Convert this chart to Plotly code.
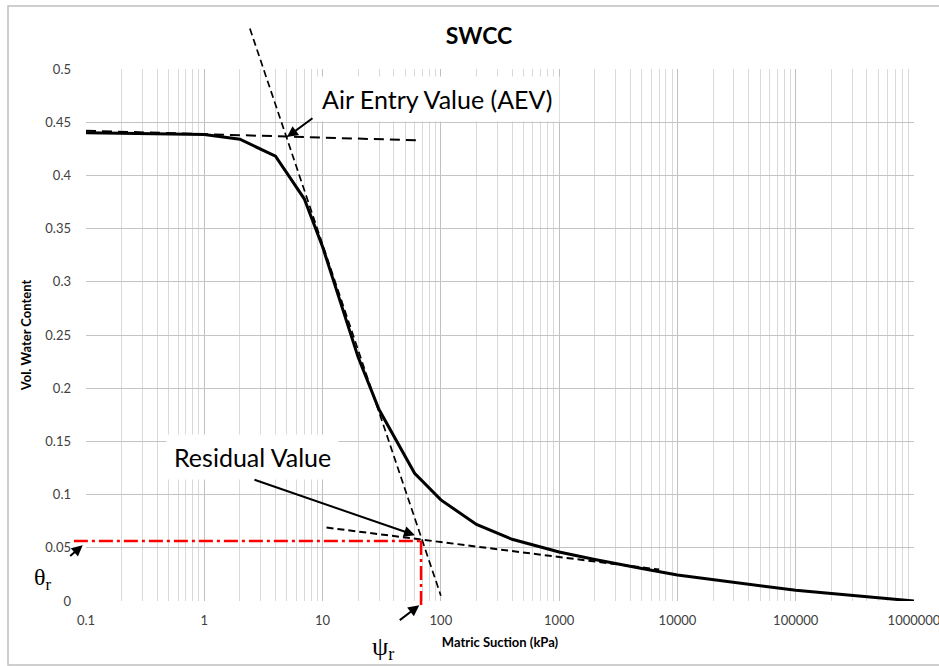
import math
import plotly.graph_objects as go

# ---------------- data ----------------
suction = [0.1, 1, 2, 4, 7, 10, 20, 30, 60, 100, 200, 400, 1000, 2000, 5000, 10000, 100000, 1000000]
vwc = [0.440, 0.4385, 0.434, 0.418, 0.378, 0.333, 0.229, 0.180, 0.120, 0.095, 0.072, 0.058,
       0.046, 0.039, 0.0305, 0.0245, 0.010, 0.000]

aev_tangent_x = [0.1, 62]
aev_tangent_y = [0.442, 0.433]
steep_tangent_x = [2.43, 100]
steep_tangent_y = [0.538, 0.005]
residual_tangent_x = [10.8, 7000]
residual_tangent_y = [0.069, 0.0295]

psi_r = 68
theta_r = 0.0565
red_start_x = 0.079
red_bottom_y = -0.0056

aev_point = (5, 0.436)
residual_arrow_point = (60.4, 0.0618)

x_tick_vals = [0.1, 1, 10, 100, 1000, 10000, 100000, 1000000]
x_tick_text = ["0.1", "1", "10", "100", "1000", "10000", "100000", "1000000"]
y_tick_vals = [0, 0.05, 0.1, 0.15, 0.2, 0.25, 0.3, 0.35, 0.4, 0.45, 0.5]
y_tick_text = ["0", "0.05", "0.1", "0.15", "0.2", "0.25", "0.3", "0.35", "0.4", "0.45", "0.5"]
minor_vals = [k * 10 ** e for e in range(-1, 6) for k in range(2, 10)]

# ---------------- scales ----------------
X_RANGE = [-1, 6]
Y_RANGE = [0, 0.5]


def xfrac(v):
    return (math.log10(v) - X_RANGE[0]) / (X_RANGE[1] - X_RANGE[0])


def yfrac(v):
    return (v - Y_RANGE[0]) / (Y_RANGE[1] - Y_RANGE[0])


FONT = "Lato"
W, H = 939, 666
ML, MR, MT, MB = 86, 25, 69, 65
PW, PH = W - ML - MR, H - MT - MB


def px_x(p):  # pixel -> paper (decoration placement only)
    return (p - ML) / PW


def px_y(p):
    return (H - MB - p) / PH


fig = go.Figure()

fig.add_trace(go.Scatter(x=aev_tangent_x, y=aev_tangent_y, mode="lines",
                         line=dict(color="black", width=2, dash="10px,6px"), showlegend=False))
fig.add_trace(go.Scatter(x=residual_tangent_x, y=residual_tangent_y, mode="lines",
                         line=dict(color="black", width=2, dash="7px,4px"), showlegend=False))
fig.add_trace(go.Scatter(x=suction, y=vwc, mode="lines",
                         line=dict(color="black", width=3), showlegend=False))

# steep tangent (extends above the plot) and red residual guides (extend outside the plot)
fig.add_shape(type="line", xref="x domain", yref="y domain",
              x0=xfrac(steep_tangent_x[0]), y0=yfrac(steep_tangent_y[0]),
              x1=xfrac(steep_tangent_x[1]), y1=yfrac(steep_tangent_y[1]),
              line=dict(color="black", width=1.7, dash="7px,4px"))
fig.add_shape(type="line", xref="x domain", yref="y domain",
              x0=xfrac(red_start_x), y0=yfrac(theta_r), x1=xfrac(psi_r), y1=yfrac(theta_r),
              line=dict(color="#ff0000", width=2.5, dash="14px,4px,3px,4px"))
fig.add_shape(type="line", xref="x domain", yref="y domain",
              x0=xfrac(psi_r), y0=yfrac(theta_r), x1=xfrac(psi_r), y1=yfrac(red_bottom_y),
              line=dict(color="#ff0000", width=2.5, dash="14px,4px,3px,4px"))

# outer frame
fig.add_shape(type="rect", xref="paper", yref="paper",
              x0=px_x(8), y0=px_y(665), x1=px_x(960), y1=px_y(6),
              line=dict(color="#bfbfbf", width=1.5), fillcolor="rgba(0,0,0,0)")

# text boxes
fig.add_annotation(xref="paper", yref="paper", x=px_x(437), y=px_y(99),
                   xanchor="center", yanchor="middle",
                   text="Air Entry Value (AEV)", showarrow=False,
                   font=dict(family=FONT, size=25, color="black"),
                   bgcolor="white", borderpad=7)
fig.add_annotation(xref="paper", yref="paper", x=px_x(252), y=px_y(457),
                   xanchor="center", yanchor="middle",
                   text="Residual Value", showarrow=False,
                   font=dict(family=FONT, size=25, color="black"),
                   bgcolor="white", borderpad=7)

# arrows
arrow_style = dict(showarrow=True, arrowhead=2, arrowsize=1.1, arrowwidth=2, arrowcolor="black", text="")
fig.add_annotation(x=math.log10(aev_point[0]), y=aev_point[1], xref="x", yref="y",
                   ax=27, ay=-20, **arrow_style)
fig.add_annotation(x=math.log10(residual_arrow_point[0]), y=residual_arrow_point[1], xref="x", yref="y",
                   ax=-162, ay=-56, **arrow_style)
fig.add_annotation(x=px_x(82.7), y=yfrac(0.0524), xref="paper", yref="paper",
                   ax=-14, ay=12, **arrow_style)
fig.add_annotation(x=math.log10(65.7), y=yfrac(-0.004), xref="x", yref="paper",
                   ax=-21, ay=16, **arrow_style)

# symbols
fig.add_annotation(xref="paper", yref="paper", x=px_x(43), y=px_y(579),
                   xanchor="center", yanchor="middle",
                   text="θ<sub>r</sub>", showarrow=False,
                   font=dict(family="Liberation Serif", size=24, color="black"))
fig.add_annotation(xref="paper", yref="paper", x=px_x(383), y=px_y(648),
                   xanchor="center", yanchor="middle",
                   text="ψ<sub>r</sub>", showarrow=False,
                   font=dict(family="Liberation Serif", size=26, color="black"))

fig.update_layout(
    width=W, height=H,
    margin=dict(l=ML, r=MR, t=MT, b=MB),
    paper_bgcolor="white", plot_bgcolor="white",
    title=dict(text="<b>SWCC</b>", x=479 / W, xanchor="center",
               y=1 - 36 / H, yanchor="middle",
               font=dict(family=FONT, size=23, color="black")),
    xaxis=dict(type="log", range=X_RANGE, tickvals=x_tick_vals, ticktext=x_tick_text,
               automargin=False,
               showgrid=True, gridcolor="#c0c0c0", gridwidth=1, zeroline=False,
               showline=False, ticks="", ticklabelstandoff=10, ticklabeloverflow="allow",
               tickfont=dict(family=FONT, size=13, color="#404040"),
               minor=dict(tickvals=minor_vals, showgrid=True, gridcolor="#d9d9d9", gridwidth=1, ticks=""),
               title=dict(text="<b>Matric Suction (kPa)</b>", standoff=10,
                          font=dict(family=FONT, size=13, color="black"))),
    yaxis=dict(range=Y_RANGE, tickvals=y_tick_vals, ticktext=y_tick_text,
               automargin=False,
               showgrid=True, gridcolor="#c4c4c4", gridwidth=1, zeroline=False,
               showline=False, ticks="", ticklabelstandoff=14,
               tickfont=dict(family=FONT, size=13, color="#404040"),
               title=dict(text="<b>Vol. Water Content</b>", standoff=10,
                          font=dict(family=FONT, size=13, color="black"))),
)

fig.write_html("out.html", config={"displayModeBar": False},
               post_script="document.body.style.margin='0px';")
